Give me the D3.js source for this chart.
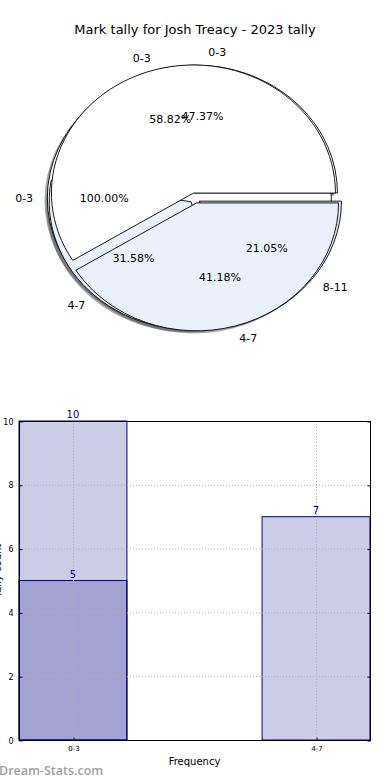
<!DOCTYPE html>
<html>
<head>
<meta charset="utf-8">
<script src="https://cdn.jsdelivr.net/npm/d3@7"></script>
<style>
  body { margin: 0; background: #fff; }
  svg { display: block; font-family: "DejaVu Sans", sans-serif; }
</style>
</head>
<body>
<svg id="chart" width="390" height="780"></svg>
<script>
// pie data: three tallies stacked on top of each other
const pieOneLabels = ["0-3"];
const pieOneValues = [1];
const pieTwoLabels = ["0-3", "4-7"];
const pieTwoValues = [10, 7];
const pieThreeLabels = ["0-3", "4-7", "8-11"];
const pieThreeValues = [9, 6, 4];

// bar data
const barCategories = ["0-3", "4-7"];
const barTotals = [10, 7];
const barSecond = [5, null];
const yTicks = [0, 2, 4, 6, 8, 10];

const svg = d3.select("#chart");

svg.append("text")
    .attr("x", 195).attr("y", 34)
    .attr("text-anchor", "middle")
    .style("font-size", "13px")
    .text("Mark tally for Josh Treacy - 2023 tally");

// ---------- pies ----------
const cx = 195, cy = 198, rx = 142, ry = 128, explode = 0.04;
const wedgeColors = { "0-3": "#ffffff", "4-7": "#eaf0fc", "8-11": "#e3eaf8" };

const pieGen = d3.pie().sortValues(null).value(d => d)
    .startAngle(Math.PI / 2).endAngle(Math.PI / 2 - 2 * Math.PI);
const unitArc = d3.arc().innerRadius(0).outerRadius(1);

function buildPie(labels, values) {
    const total = d3.sum(values);
    return pieGen(values).map((a, i) => {
        const mid = (a.startAngle + a.endAngle) / 2;
        const ux = Math.sin(mid), uy = -Math.cos(mid);
        return {
            arc: a, label: labels[i], pct: values[i] / total * 100,
            ux, uy,
            ox: explode * ux * rx, oy: explode * uy * ry
        };
    });
}

// drawn in this order, last one ends up on top
const pies = [
    buildPie(pieOneLabels, pieOneValues),
    buildPie(pieThreeLabels, pieThreeValues),
    buildPie(pieTwoLabels, pieTwoValues)
];

const pieLayer = svg.append("g");

// shadows sit under every wedge
pies.forEach(p => {
    p.forEach(w => {
        const c = d3.rgb(wedgeColors[w.label]);
        pieLayer.append("path")
            .attr("d", unitArc(w.arc))
            .attr("transform", `translate(${cx + w.ox - 0.02 * rx},${cy + w.oy + 0.02 * ry}) scale(${rx},${ry})`)
            .attr("fill", d3.rgb(c.r * 0.3, c.g * 0.3, c.b * 0.3))
            .attr("fill-opacity", 0.5);
    });
});

pies.forEach(p => {
    p.forEach(w => {
        pieLayer.append("path")
            .attr("d", unitArc(w.arc))
            .attr("transform", `translate(${cx + w.ox},${cy + w.oy}) scale(${rx},${ry})`)
            .attr("fill", wedgeColors[w.label])
            .attr("stroke", "#000")
            .attr("stroke-width", 0.9)
            .attr("vector-effect", "non-scaling-stroke")
            .attr("stroke-linejoin", "round");
    });
});

const fmtPct = d3.format(".2f");
pies.forEach(p => {
    p.forEach(w => {
        const lx = cx + w.ox + 1.1 * rx * w.ux;
        const ly = cy + w.oy + 1.1 * ry * w.uy;
        svg.append("text")
            .attr("x", lx).attr("y", ly)
            .attr("dy", "0.35em")
            .attr("text-anchor", w.ux > 0 ? "start" : "end")
            .style("font-size", "11px")
            .text(w.label);
        svg.append("text")
            .attr("x", cx + w.ox + 0.6 * rx * w.ux)
            .attr("y", cy + w.oy + 0.6 * ry * w.uy)
            .attr("dy", "0.35em")
            .attr("text-anchor", "middle")
            .style("font-size", "11px")
            .text(fmtPct(w.pct) + "%");
    });
});

// ---------- bars ----------
const plot = { left: 19, right: 370, top: 421, bottom: 740 };
const x = d3.scaleLinear().domain([-0.222, 1.222]).range([plot.left, plot.right]);
const y = d3.scaleLinear().domain([0, 10]).range([plot.bottom, plot.top]);
const barW = 0.444;
const navy = "#000080";

const bars = svg.append("g");

bars.selectAll(".bar-total")
    .data(barTotals)
    .join("rect")
    .attr("class", "bar-total")
    .attr("x", (d, i) => x(i - barW / 2))
    .attr("width", x(barW) - x(0))
    .attr("y", d => y(d))
    .attr("height", d => y(0) - y(d))
    .attr("fill", navy).attr("fill-opacity", 0.2)
    .attr("stroke", navy).attr("stroke-width", 1);

const second = barSecond.map((v, i) => ({ v, i })).filter(d => d.v != null);
bars.selectAll(".bar-second")
    .data(second)
    .join("rect")
    .attr("class", "bar-second")
    .attr("x", d => x(d.i - barW / 2))
    .attr("width", x(barW) - x(0))
    .attr("y", d => y(d.v))
    .attr("height", d => y(0) - y(d.v))
    .attr("fill", navy).attr("fill-opacity", 0.2)
    .attr("stroke", navy).attr("stroke-width", 1);

// grid
const grid = svg.append("g")
    .attr("stroke", "#b0b0b0").attr("stroke-dasharray", "1,2").attr("stroke-width", 1);
yTicks.slice(1, -1).forEach(t => {
    grid.append("line").attr("x1", plot.left).attr("x2", plot.right)
        .attr("y1", y(t) + 0.5).attr("y2", y(t) + 0.5);
});
barCategories.forEach((c, i) => {
    grid.append("line").attr("x1", x(i) + 0.5).attr("x2", x(i) + 0.5)
        .attr("y1", plot.top).attr("y2", plot.bottom);
});

// frame
svg.append("rect")
    .attr("x", plot.left + 0.5).attr("y", plot.top + 0.5)
    .attr("width", plot.right - plot.left).attr("height", plot.bottom - plot.top)
    .attr("fill", "none").attr("stroke", "#000").attr("stroke-width", 1);

const yAxis = svg.append("g")
    .attr("transform", `translate(${plot.left + 0.5},0.5)`)
    .call(d3.axisLeft(y).tickValues(yTicks).tickSize(-3).tickPadding(6));
const yAxisR = svg.append("g")
    .attr("transform", `translate(${plot.right + 0.5},0.5)`)
    .call(d3.axisRight(y).tickValues(yTicks).tickSize(-3).tickFormat(""));
const xAxis = svg.append("g")
    .attr("transform", `translate(0.5,${plot.bottom + 0.5})`)
    .call(d3.axisBottom(x).tickValues([0, 1]).tickSize(-3).tickPadding(6)
        .tickFormat(d => barCategories[d]));
[yAxis, yAxisR, xAxis].forEach(g => {
    g.select(".domain").remove();
    g.selectAll("line").attr("stroke", "#000");
    g.selectAll("text").style("font-size", "8px").attr("fill", "#000")
        .style("font-family", "DejaVu Sans, sans-serif");
});
xAxis.selectAll("text").style("font-size", "7px");

// value labels
const labelData = barTotals.map((v, i) => ({ v, i }))
    .concat(second);
svg.selectAll(".bar-label")
    .data(labelData)
    .join("text")
    .attr("class", "bar-label")
    .attr("x", d => x(d.i))
    .attr("y", d => y(d.v) - 3)
    .attr("text-anchor", "middle")
    .attr("fill", navy)
    .style("font-size", "10px")
    .text(d => d.v);

svg.append("text")
    .attr("x", x(0.5)).attr("y", 765)
    .attr("text-anchor", "middle")
    .style("font-size", "10px")
    .text("Frequency");

svg.append("text")
    .attr("transform", `translate(1,${(plot.top + plot.bottom) / 2 - 10}) rotate(-90)`)
    .attr("text-anchor", "middle")
    .style("font-size", "10px")
    .text("Tally count");

svg.append("text")
    .attr("x", -1).attr("y", 775)
    .attr("fill", "#a0a0a0")
    .style("font-family", "'Open Sans', sans-serif")
    .style("font-size", "12.5px")
    .style("font-weight", "600")
    .text("Dream-Stats.com");
</script>
</body>
</html>
